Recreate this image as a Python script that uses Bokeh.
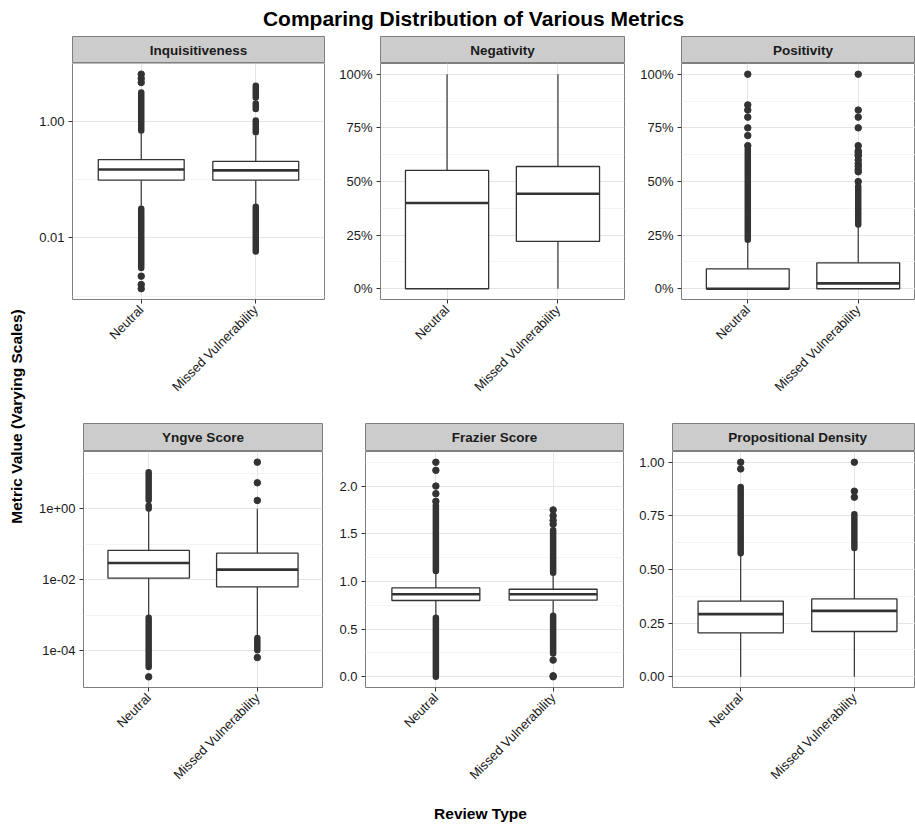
import math
from bokeh.plotting import figure
from bokeh.layouts import row, column
from bokeh.models import Range1d, FixedTicker, ColumnDataSource
from bokeh.core.properties import value
from bokeh.embed import file_html
from bokeh.resources import INLINE

# ---------------- data ----------------
categories = ["Neutral", "Missed Vulnerability"]
chart_title = "Comparing Distribution of Various Metrics"
x_title = "Review Type"
y_title = "Metric Value (Varying Scales)"

# Inquisitiveness (log scale)
inq_low = [0.0321, 0.0366]
inq_q1 = [0.0975, 0.0975]
inq_med = [0.149, 0.144]
inq_q3 = [0.220, 0.206]
inq_high = [0.624, 0.570]
inq_outliers = [[0.00134, 0.00158, 0.00220, 4.62, 5.41, 6.43], []]
inq_outlier_runs = [[(0.00305, 0.0316), (0.694, 3.12)],
                    [(0.00585, 0.0343), (0.65, 1.03), (1.63, 2.03), (2.56, 4.06)]]
inq_ticks = [0.01, 1.0]
inq_tick_labels = ["0.01", "1.00"]
inq_minor = [0.001, 0.1, 10.0]

# Negativity
neg_low = [0.0, 0.0]
neg_q1 = [0.0, 0.221]
neg_med = [0.400, 0.443]
neg_q3 = [0.552, 0.570]
neg_high = [1.0, 1.0]
neg_outliers = [[], []]
neg_outlier_runs = [[], []]
pct_ticks = [0.0, 0.25, 0.5, 0.75, 1.0]
pct_tick_labels = ["0%", "25%", "50%", "75%", "100%"]
pct_minor = [0.125, 0.375, 0.625, 0.875]

# Positivity
pos_low = [0.0, 0.0]
pos_q1 = [0.0, 0.0]
pos_med = [0.0, 0.025]
pos_q3 = [0.093, 0.121]
pos_high = [0.221, 0.295]
pos_outliers = [[0.667, 0.714, 0.75, 0.8, 0.833, 0.857, 1.0],
                [0.5, 0.545, 0.556, 0.571, 0.583, 0.6, 0.619, 0.625, 0.636,
                 0.643, 0.667, 0.75, 0.8, 0.833, 1.0]]
pos_outlier_runs = [[(0.229, 0.65)], [(0.30, 0.478)]]

# Yngve Score (log scale)
yng_low = [9.0e-4, 2.48e-4]
yng_q1 = [0.0112, 0.0063]
yng_med = [0.0297, 0.0194]
yng_q3 = [0.067, 0.056]
yng_high = [1.0, 1.0]
yng_outliers = [[1.86e-5], [6.5e-5, 1.71, 5.37, 20.4]]
yng_outlier_runs = [[(3.5e-5, 8.5e-4), (1.02, 1.22), (1.75, 10.7)],
                    [(1.05e-4, 2.3e-4)]]
yng_ticks = [1e-4, 1e-2, 1.0]
yng_tick_labels = ["1e-04", "1e-02", "1e+00"]
yng_minor = [1e-3, 1e-1, 10.0]

# Frazier Score
fra_low = [0.628, 0.646]
fra_q1 = [0.800, 0.803]
fra_med = [0.866, 0.866]
fra_q3 = [0.932, 0.918]
fra_high = [1.10, 1.083]
fra_outliers = [[1.84, 1.92, 2.0, 2.165, 2.25],
                [0.0, 0.01, 0.175, 1.60, 1.64, 1.69, 1.75]]
fra_outlier_runs = [[(0.0, 0.62), (1.11, 1.80)], [(0.244, 0.64), (1.09, 1.536)]]
fra_ticks = [0.0, 0.5, 1.0, 1.5, 2.0]
fra_tick_labels = ["0.0", "0.5", "1.0", "1.5", "2.0"]
fra_minor = [0.25, 0.75, 1.25, 1.75, 2.25]

# Propositional Density
prd_low = [0.0, 0.0]
prd_q1 = [0.205, 0.211]
prd_med = [0.292, 0.307]
prd_q3 = [0.353, 0.363]
prd_high = [0.574, 0.597]
prd_outliers = [[0.969, 1.0], [0.837, 0.865, 1.0]]
prd_outlier_runs = [[(0.576, 0.884)], [(0.60, 0.757)]]
prd_ticks = [0.0, 0.25, 0.5, 0.75, 1.0]
prd_tick_labels = ["0.00", "0.25", "0.50", "0.75", "1.00"]
prd_minor = [0.125, 0.375, 0.625, 0.875]

# ---------------- style ----------------
FONT = "Liberation Sans"
DARK = "#333333"
TXT = "#1a1a1a"
BORDER = "#7f7f7f"
STRIP_FILL = "#cccccc"
GRID_MAJOR = "#e5e5e5"
GRID_MINOR = "#f4f4f4"
BOX_W = 0.75


def make_panel(name, stats, outliers, runs, ticks, labels, minor, log, yrange,
               fig_w, b_left, b_right, x_end, strip_h, fig_h, b_bottom):
    low, q1, med, q3, high = stats
    xr = (0.4, x_end)

    strip = figure(width=fig_w, height=strip_h, x_range=Range1d(*xr), y_range=Range1d(0, 1),
                   x_axis_type=None, y_axis_type=None, toolbar_location=None,
                   output_backend="svg", min_border_left=b_left, min_border_right=b_right,
                   min_border_top=0, min_border_bottom=0, background_fill_color=STRIP_FILL,
                   border_fill_color="white", outline_line_color=BORDER, title=None)
    strip.text(x=[1.5], y=[0.5], text=[name], text_align="center", text_baseline="middle",
               text_font=value(FONT), text_font_style="bold", text_font_size="13.5px",
               text_color=TXT)

    p = figure(width=fig_w, height=fig_h, x_range=Range1d(*xr), y_range=Range1d(*yrange),
               y_axis_type="log" if log else "linear", toolbar_location=None,
               output_backend="svg", min_border_left=b_left, min_border_right=b_right,
               min_border_top=0, min_border_bottom=b_bottom, background_fill_color="white",
               border_fill_color="white", outline_line_color=BORDER, title=None)

    xs = [i + 1 for i in range(len(categories))]
    src = ColumnDataSource(dict(x=xs, low=low, q1=q1, med=med, q3=q3, high=high,
                                x0=[x - BOX_W / 2 for x in xs], x1=[x + BOX_W / 2 for x in xs]))
    p.segment("x", "low", "x", "q1", source=src, line_color=DARK, line_width=1.2)
    p.segment("x", "q3", "x", "high", source=src, line_color=DARK, line_width=1.2)
    p.vbar(x="x", width=BOX_W, bottom="q1", top="q3", source=src, fill_color="white",
           line_color=DARK, line_width=1.3)
    p.segment("x0", "med", "x1", "med", source=src, line_color=DARK, line_width=2.6)

    ox, oy = [], []
    for x, vals in zip(xs, outliers):
        for v in vals:
            ox.append(x)
            oy.append(v)
    if ox:
        p.scatter(ox, oy, size=6.5, fill_color=DARK, line_color=DARK)
    rx, rlo, rhi = [], [], []
    for x, rr in zip(xs, runs):
        for lo, hi in rr:
            rx.append(x)
            rlo.append(lo)
            rhi.append(hi)
    if rx:
        p.segment(rx, rlo, rx, rhi, line_color=DARK, line_width=6.5, line_cap="round")

    # axes
    p.yaxis.ticker = FixedTicker(ticks=ticks, minor_ticks=minor)
    p.yaxis.major_label_overrides = dict(zip(ticks, labels))
    p.xaxis.ticker = FixedTicker(ticks=xs)
    p.xaxis.major_label_overrides = dict(zip(xs, categories))
    p.xaxis.major_label_orientation = math.pi / 4
    for ax in (p.xaxis, p.yaxis):
        ax.axis_line_color = None
        ax.major_tick_line_color = DARK
        ax.major_tick_out = 4
        ax.major_tick_in = 0
        ax.minor_tick_line_color = None
        ax.major_label_text_font = FONT
        ax.major_label_text_font_size = "13px"
        ax.major_label_text_color = TXT
        ax.major_label_standoff = 4
    p.ygrid.ticker = FixedTicker(ticks=ticks, minor_ticks=minor)
    p.xgrid.ticker = FixedTicker(ticks=xs)
    p.grid.grid_line_color = GRID_MAJOR
    p.ygrid.minor_grid_line_color = GRID_MINOR
    return column(strip, p)


# layout geometry (pixels)
p1 = make_panel("Inquisitiveness", (inq_low, inq_q1, inq_med, inq_q3, inq_high),
                inq_outliers, inq_outlier_runs, inq_ticks, inq_tick_labels, inq_minor, True,
                (10 ** -3.058, 10 ** 0.992), 304, 42, 10, 2.6, 27, 360, 124)
p2 = make_panel("Negativity", (neg_low, neg_q1, neg_med, neg_q3, neg_high),
                neg_outliers, neg_outlier_runs, pct_ticks, pct_tick_labels, pct_minor, False,
                (-0.05, 1.05), 302, 46, 12, 2.6, 27, 360, 124)
p3 = make_panel("Positivity", (pos_low, pos_q1, pos_med, pos_q3, pos_high),
                pos_outliers, pos_outlier_runs, pct_ticks, pct_tick_labels, pct_minor, False,
                (-0.05, 1.05), 279, 45, 0, 2.5185, 27, 360, 124)
p4 = make_panel("Yngve Score", (yng_low, yng_q1, yng_med, yng_q3, yng_high),
                yng_outliers, yng_outlier_runs, yng_ticks, yng_tick_labels, yng_minor, True,
                (10 ** -5.03, 10 ** 1.61), 304, 53, 12, 2.6, 28, 349, 113)
p5 = make_panel("Frazier Score", (fra_low, fra_q1, fra_med, fra_q3, fra_high),
                fra_outliers, fra_outlier_runs, fra_ticks, fra_tick_labels, fra_minor, False,
                (-0.1125, 2.3625), 301, 31, 12, 2.6, 28, 349, 113)
p6 = make_panel("Propositional Density", (prd_low, prd_q1, prd_med, prd_q3, prd_high),
                prd_outliers, prd_outlier_runs, prd_ticks, prd_tick_labels, prd_minor, False,
                (-0.05, 1.05), 280, 37, 0, 2.538, 28, 349, 113)


def text_fig(w, h, xr, yr, x, y, txt, size, angle=0.0):
    f = figure(width=w, height=h, x_range=Range1d(*xr), y_range=Range1d(*yr),
               x_axis_type=None, y_axis_type=None, toolbar_location=None,
               output_backend="svg", min_border=0, outline_line_color=None,
               background_fill_color="white", border_fill_color="white", title=None)
    f.text(x=[x], y=[y], text=[txt], angle=angle, text_align="center", text_baseline="middle",
           text_font=value(FONT), text_font_style="bold", text_font_size=size, text_color="black")
    return f


title_fig = text_fig(885, 36, (30, 915), (36, 0), 473, 18, chart_title, "21px")
xlab_fig = text_fig(885, 25, (30, 915), (825, 800), 480, 813, x_title, "15.5px")
ylab_fig = text_fig(30, 825, (0, 30), (825, 0), 16, 416, y_title, "15.5px", angle=math.pi / 2)

layout = row(ylab_fig, column(title_fig, row(p1, p2, p3), row(p4, p5, p6), xlab_fig))

open("out.html", "w").write(file_html(layout, INLINE))
